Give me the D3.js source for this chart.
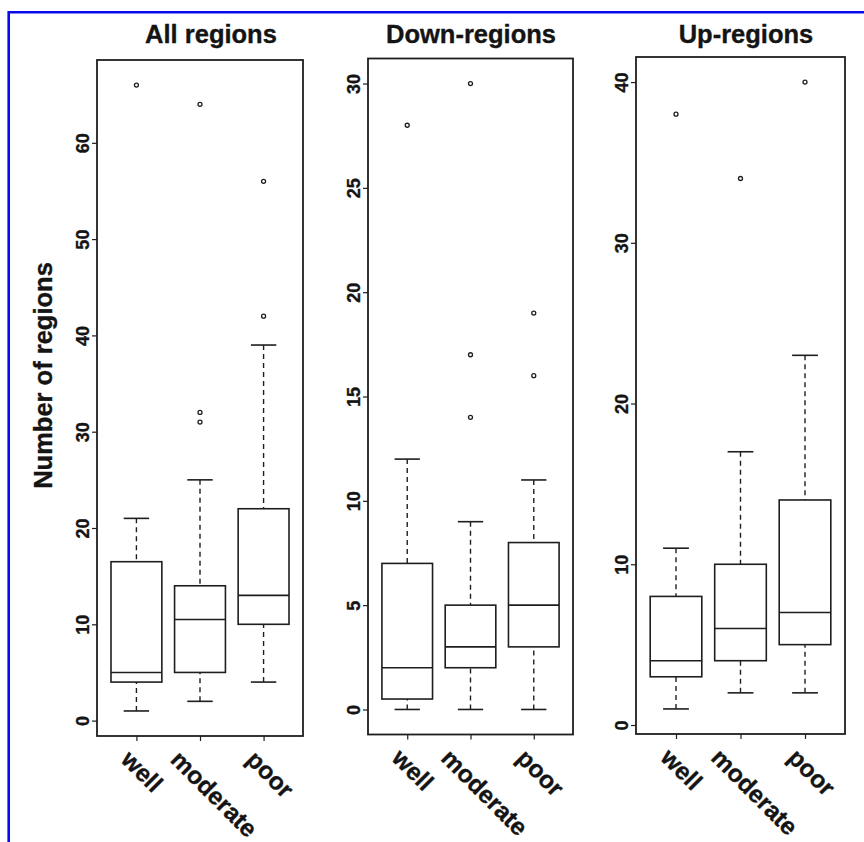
<!DOCTYPE html>
<html>
<head>
<meta charset="utf-8">
<script src="https://cdn.jsdelivr.net/npm/d3@7"></script>
<style>
  html, body { margin: 0; padding: 0; background: #fff; }
  svg text { font-family: "Liberation Sans", Arial, Helvetica, sans-serif; font-weight: bold; fill: #141414; stroke: #141414; stroke-width: 0.35px; }
</style>
</head>
<body>
<div id="root"></div>
<script>
const groups = ['well', 'moderate', 'poor'];
const panelTitles = ['All regions', 'Down-regions', 'Up-regions'];

// five numbers per group: [lower whisker, Q1, median, Q3, upper whisker]
const allStats = [[1, 4, 5, 16.5, 21], [2, 5, 10.5, 14, 25], [4, 10, 13, 22, 39]];
const allOutliers = [[66], [31, 32, 64], [42, 56]];
const allTicks = [0, 10, 20, 30, 40, 50, 60];

const downStats = [[0, 0.5, 2, 7, 12], [0, 2, 3, 5, 9], [0, 3, 5, 8, 11]];
const downOutliers = [[28], [14, 17, 30], [16, 19]];
const downTicks = [0, 5, 10, 15, 20, 25, 30];

const upStats = [[1, 3, 4, 8, 11], [2, 4, 6, 10, 17], [2, 5, 7, 14, 23]];
const upOutliers = [[38], [34], [40]];
const upTicks = [0, 10, 20, 30, 40];

const yLabel = 'Number of regions';

const width = 864;
const height = 842;

// plot boxes, pixels
const layout = [
  { left: 97, right: 303, top: 60, bottom: 736, titleX: 211 },
  { left: 368, right: 573, top: 58.5, bottom: 734.5, titleX: 471 },
  { left: 636, right: 845, top: 57, bottom: 734, titleX: 746 },
];

const panels = [
  { stats: allStats, outliers: allOutliers, ticks: allTicks },
  { stats: downStats, outliers: downOutliers, ticks: downTicks },
  { stats: upStats, outliers: upOutliers, ticks: upTicks },
];

const svg = d3.select('#root').append('svg')
  .attr('width', width)
  .attr('height', height);

svg.append('rect').attr('width', width).attr('height', height).attr('fill', '#fff');

// blue frame, only left and top edges show
svg.append('path')
  .attr('d', `M8.7,${height} V12.2 H${width}`)
  .attr('fill', 'none')
  .attr('stroke', '#0a0af0')
  .attr('stroke-width', 2.6);

svg.append('text')
  .attr('transform', 'translate(52, 375.5) rotate(-90)')
  .attr('text-anchor', 'middle')
  .style('font-size', '25.5px')
  .text(yLabel);

const ink = '#1e1e1e';

panels.forEach((p, i) => {
  const box = layout[i];

  // R style range: data extent padded by 4%
  const all = p.stats.flat().concat(p.outliers.flat());
  const lo = d3.min(all), hi = d3.max(all);
  const pad = (hi - lo) * 0.04;

  const y = d3.scaleLinear()
    .domain([lo - pad, hi + pad])
    .range([box.bottom, box.top]);

  const x = d3.scalePoint()
    .domain(groups)
    .range([box.left, box.right])
    .padding(0.62);

  const boxW = x.step() * 0.8;
  const g = svg.append('g');

  g.append('text')
    .attr('x', box.titleX)
    .attr('y', 43)
    .attr('text-anchor', 'middle')
    .style('font-size', '25.5px')
    .text(panelTitles[i]);

  // y axis
  const yAxis = g.append('g')
    .attr('transform', `translate(${box.left},0)`)
    .call(d3.axisLeft(y).tickValues(p.ticks).tickSize(5).tickSizeOuter(0));
  yAxis.select('.domain').remove();
  yAxis.selectAll('line').attr('stroke', ink).attr('stroke-width', 1.2);
  yAxis.selectAll('text')
    .attr('x', 0)
    .attr('y', -8.5)
    .attr('dy', null)
    .attr('transform', 'rotate(-90)')
    .attr('text-anchor', 'middle')
    .attr('fill', null)
    .style('font-size', '18px')
    .style('font-family', null);

  // x axis with slanted labels
  const xAxis = g.append('g')
    .attr('transform', `translate(0,${box.bottom})`)
    .call(d3.axisBottom(x).tickSize(5).tickSizeOuter(0));
  xAxis.select('.domain').remove();
  xAxis.selectAll('line').attr('stroke', ink).attr('stroke-width', 1.2);
  xAxis.selectAll('text')
    .attr('y', 0)
    .attr('dy', null)
    .attr('text-anchor', 'start')
    .attr('fill', null)
    .style('font-size', '24.5px')
    .style('font-family', null)
    .attr('transform', function () {
      const len = this.getComputedTextLength();
      return `translate(${-7 - 0.22 * len},25) rotate(45)`;
    });

  // boxes
  const b = g.selectAll('.bx')
    .data(p.stats.map((s, k) => ({ name: groups[k], s, out: p.outliers[k] })))
    .enter().append('g')
    .attr('class', 'bx');

  // dashed whiskers
  b.append('line')
    .attr('x1', d => x(d.name)).attr('x2', d => x(d.name))
    .attr('y1', d => y(d.s[0])).attr('y2', d => y(d.s[1]))
    .attr('stroke', ink).attr('stroke-width', 1.4).attr('stroke-dasharray', '5,4');
  b.append('line')
    .attr('x1', d => x(d.name)).attr('x2', d => x(d.name))
    .attr('y1', d => y(d.s[4])).attr('y2', d => y(d.s[3]))
    .attr('stroke', ink).attr('stroke-width', 1.4).attr('stroke-dasharray', '5,4');

  // staples
  [0, 4].forEach(j => {
    b.append('line')
      .attr('x1', d => x(d.name) - boxW / 4).attr('x2', d => x(d.name) + boxW / 4)
      .attr('y1', d => y(d.s[j])).attr('y2', d => y(d.s[j]))
      .attr('stroke', ink).attr('stroke-width', 1.6);
  });

  b.append('rect')
    .attr('x', d => x(d.name) - boxW / 2)
    .attr('width', boxW)
    .attr('y', d => y(d.s[3]))
    .attr('height', d => y(d.s[1]) - y(d.s[3]))
    .attr('fill', 'none')
    .attr('stroke', ink)
    .attr('stroke-width', 1.6);

  b.append('line')
    .attr('x1', d => x(d.name) - boxW / 2).attr('x2', d => x(d.name) + boxW / 2)
    .attr('y1', d => y(d.s[2])).attr('y2', d => y(d.s[2]))
    .attr('stroke', ink).attr('stroke-width', 1.6);

  b.selectAll('circle')
    .data(d => d.out.map(v => ({ name: d.name, v })))
    .enter().append('circle')
    .attr('cx', d => x(d.name))
    .attr('cy', d => y(d.v))
    .attr('r', 2)
    .attr('fill', 'none')
    .attr('stroke', ink)
    .attr('stroke-width', 1.3);

  // plot frame
  g.append('rect')
    .attr('x', box.left).attr('y', box.top)
    .attr('width', box.right - box.left)
    .attr('height', box.bottom - box.top)
    .attr('fill', 'none')
    .attr('stroke', ink)
    .attr('stroke-width', 1.8);
});
</script>
</body>
</html>
